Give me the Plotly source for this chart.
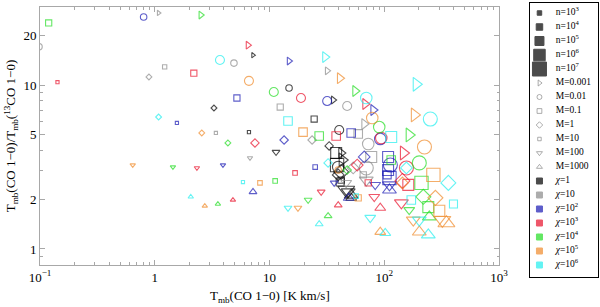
import plotly.graph_objects as go

# ---------------- data ----------------
# each chi group: x = Tmb(CO 1-0) [K km/s], y = line ratio, M = mass, n = log10 density
chi1_x = [7.18, 14.8, 35.9, 24.5, 3.28, 6.62, 11.4, 40.5, 33.1, 38.1, 42.1, 39.7, 42.1, 39.7, 48.5, 51.5, 38.8, 43.0, 46.6, 41.3, 42.1, 51.5]
chi1_y = [15.2, 9.59, 8.10, 6.20, 7.24, 5.16, 3.90, 5.32, 4.25, 3.85, 3.85, 3.16, 2.63, 2.83, 2.23, 2.05, 3.25, 3.49, 2.29, 2.56, 2.95, 2.13]
chi1_M = [0.001, 0.01, 0.001, 0.1, 1, 10, 100, 0.01, 1, 0.1, 0.001, 0.01, 10, 1, 100, 1000, 0.1, 0.001, 100, 10, 1, 1000]
chi1_n = [3, 4, 4, 4, 3, 3, 4, 5, 4, 6, 5, 6, 5, 5, 6, 5, 7, 6, 7, 6, 6, 6]

chi10_x = [0.098, 1.08, 4.90, 1.22, 0.89, 3.41, 6.76, 31.8, 12.4, 23.5, 47.5, 66.9, 59.3, 72.5, 77.0, 69.7, 53.6, 65.6, 46.6, 69.7]
chi10_y = [17.1, 27.5, 13.6, 12.9, 11.2, 5.10, 3.59, 12.2, 7.34, 4.62, 7.45, 5.78, 5.03, 4.37, 3.64, 3.12, 3.12, 2.83, 2.53, 2.63]
chi10_M = [0.01, 0.001, 0.01, 0.1, 1, 10, 100, 0.001, 0.1, 1, 0.01, 0.001, 0.1, 0.01, 0.1, 0.01, 1, 10, 100, 100]
chi10_n = [4, 3, 4, 3, 3, 3, 3, 4, 4, 4, 5, 5, 5, 6, 6, 7, 5, 5, 5, 6]

chi100_x = [0.80, 5.20, 1.56, 3.93, 14.8, 13.4, 7.18, 31.8, 80.2, 51.5, 92.3, 66.9, 108, 25.0, 108, 111, 36.6, 83.4, 111, 49.0, 106, 111, 113]
chi100_y = [26.0, 8.33, 5.87, 3.25, 14.0, 4.62, 2.23, 7.98, 7.04, 5.10, 4.69, 3.64, 3.64, 3.16, 3.03, 2.71, 2.53, 2.46, 2.46, 2.05, 2.83, 2.29, 3.25]
chi100_M = [0.01, 0.1, 10, 100, 0.001, 1, 1000, 0.01, 0.001, 0.1, 0.01, 1, 0.1, 10, 0.1, 0.1, 100, 100, 100, 1000, 10, 1000, 0.01]
chi100_n = [4, 4, 3, 3, 4, 4, 4, 5, 5, 5, 6, 5, 6, 4, 6, 7, 4, 5, 6, 5, 6, 6, 7]

chi1e3_x = [0.142, 2.19, 2.33, 4.80, 6.49, 7.47, 18.8, 16.7, 68.2, 38.1, 94.2, 147, 58.1, 156, 72.5, 162, 28.2, 81.8, 141, 39.7, 92.3, 144]
chi1e3_y = [10.4, 11.8, 3.12, 1.99, 17.5, 4.43, 8.33, 2.91, 7.66, 4.89, 4.75, 3.85, 3.25, 3.12, 2.53, 2.46, 2.23, 2.08, 1.91, 1.85, 1.78, 2.60]
chi1e3_M = [10, 0.1, 100, 1000, 0.001, 1, 0.01, 10, 0.001, 0.1, 0.01, 0.001, 1, 0.01, 10, 0.1, 100, 100, 100, 1000, 1000, 1]
chi1e3_n = [3, 4, 3, 3, 4, 4, 5, 4, 5, 5, 6, 6, 5, 7, 5, 6, 4, 5, 6, 4, 5, 6]

chi1e4_x = [0.119, 2.52, 4.34, 1.44, 3.55, 10.9, 11.2, 55.8, 27.1, 47.5, 21.7, 32.4, 90.4, 165, 115, 211, 242, 202, 219, 165, 247]
chi1e4_y = [23.9, 26.7, 4.43, 3.16, 1.88, 9.06, 2.60, 9.19, 4.89, 3.03, 1.99, 1.59, 5.54, 4.96, 3.49, 2.53, 1.80, 3.35, 2.08, 1.73, 1.57]
chi1e4_M = [0.1, 0.001, 1, 100, 1000, 0.01, 10, 0.001, 0.1, 1, 100, 1000, 0.01, 0.001, 0.1, 0.1, 0.1, 0.01, 1, 100, 1000]
chi1e4_n = [4, 4, 3, 3, 3, 5, 4, 5, 5, 4, 4, 4, 6, 6, 5, 7, 6, 7, 6, 5, 6]

chi1e5_x = [0.643, 2.73, 2.57, 6.62, 8.26, 41.0, 19.6, 17.7, 39.7, 59.3, 78.6, 183, 224, 268, 302, 144, 279, 92.3, 202, 348, 179, 321]
chi1e5_y = [3.25, 1.83, 5.10, 10.6, 2.53, 11.0, 5.16, 1.78, 3.03, 2.05, 6.29, 6.57, 4.19, 2.83, 1.71, 2.53, 2.05, 1.27, 1.27, 1.44, 1.50, 1.50]
chi1e5_M = [100, 1000, 1, 0.01, 10, 0.001, 0.1, 100, 0.01, 0.1, 0.01, 0.001, 0.01, 0.1, 0.1, 1, 1, 1000, 1000, 1000, 100, 100]
chi1e5_n = [3, 3, 3, 5, 4, 5, 5, 4, 4, 4, 6, 6, 7, 7, 6, 5, 6, 5, 6, 7, 6, 7]

chi1e6_x = [1.08, 2.06, 5.87, 3.70, 14.5, 30.5, 32.4, 14.5, 27.1, 56.9, 69.7, 115, 156, 75.5, 102, 190, 252, 172, 362, 401, 202, 242]
chi1e6_y = [6.38, 2.08, 2.56, 14.2, 6.03, 14.8, 3.35, 1.78, 1.42, 2.10, 8.33, 4.82, 3.12, 1.55, 1.25, 10.1, 6.20, 1.99, 2.53, 1.88, 1.50, 1.22]
chi1e6_M = [1, 1000, 10, 0.01, 0.1, 0.001, 1, 100, 1000, 10, 0.01, 0.1, 1, 100, 1000, 0.001, 0.01, 0.1, 1, 10, 100, 1000]
chi1e6_n = [3, 3, 3, 5, 5, 5, 4, 4, 4, 4, 6, 6, 5, 5, 5, 6, 7, 5, 6, 6, 6, 6]

# legend / encoding tables
n_exps = [3, 4, 5, 6, 7]
M_list = [0.001, 0.01, 0.1, 1, 10, 100, 1000]
M_text = ["0.001", "0.01", "0.1", "1", "10", "100", "1000"]
chi_text = ["1", "10", "10<sup>2</sup>", "10<sup>3</sup>", "10<sup>4</sup>", "10<sup>5</sup>", "10<sup>6</sup>"]

x_tickvals = [0.1, 1, 10, 100, 1000]
x_ticktext = ["10<sup>\u22121</sup>", "1", "10", "10<sup>2</sup>", "10<sup>3</sup>"]
y_tickvals = [1, 2, 5, 10, 20]
y_ticktext = ["1", "2", "5", "10", "20"]

# ---------------- styling ----------------
chi_colors = ["#000000", "#8a8a8a", "#1a1ab4", "#e8102a", "#22dd22", "#f08a2a", "#22eeee"]
M_symbols = ["triangle-right-open", "circle-open", "square-open", "diamond-open",
             "square-open", "triangle-down-open", "triangle-up-open"]
M_scale = [1.05, 1.0, 0.95, 1.0, 0.7, 1.05, 1.05]
n_size = {3: 4.5, 4: 6.5, 5: 9, 6: 11.5, 7: 14}

groups = [
    (chi1_x, chi1_y, chi1_M, chi1_n),
    (chi10_x, chi10_y, chi10_M, chi10_n),
    (chi100_x, chi100_y, chi100_M, chi100_n),
    (chi1e3_x, chi1e3_y, chi1e3_M, chi1e3_n),
    (chi1e4_x, chi1e4_y, chi1e4_M, chi1e4_n),
    (chi1e5_x, chi1e5_y, chi1e5_M, chi1e5_n),
    (chi1e6_x, chi1e6_y, chi1e6_M, chi1e6_n),
]

FONT = "Liberation Serif, Times New Roman, serif"
fig = go.Figure()

for ci, (gx, gy, gM, gn) in enumerate(groups):
    syms = [M_symbols[M_list.index(m)] for m in gM]
    sizes = [n_size[n] * M_scale[M_list.index(m)] for m, n in zip(gM, gn)]
    fig.add_trace(go.Scatter(
        x=gx, y=gy, mode="markers", showlegend=False, hoverinfo="x+y",
        marker=dict(symbol=syms, size=sizes, color=chi_colors[ci],
                    line=dict(width=1.1, color=chi_colors[ci])),
        xaxis="x", yaxis="y"))

# ---------------- legend panel ----------------
leg_labels = ([f"n=10<sup>{e}</sup>" for e in n_exps]
              + [f"M={t}" for t in M_text]
              + [f"<i>\u03c7</i>={t}" for t in chi_text])
leg_sym = (["square"] * len(n_exps) + M_symbols + ["square"] * len(chi_text))
leg_size = ([n_size[e] for e in n_exps] + [5 * s for s in M_scale] + [6] * len(chi_text))
leg_col = (["#000000"] * len(n_exps) + ["#8a8a8a"] * len(M_text) + chi_colors)

fig.add_trace(go.Scatter(
    x=[0.14] * len(leg_labels), y=leg_labels, mode="markers", showlegend=False,
    hoverinfo="skip",
    marker=dict(symbol=leg_sym, size=leg_size, color=leg_col,
                line=dict(width=1, color=leg_col)),
    xaxis="x2", yaxis="y2"))
fig.add_trace(go.Scatter(
    x=[0.38] * len(leg_labels), y=leg_labels, mode="text", text=leg_labels,
    textposition="middle right", showlegend=False, hoverinfo="skip",
    textfont=dict(family=FONT, size=9.5, color="#000"),
    xaxis="x2", yaxis="y2"))

frame_col = "#a8a8a8"
fig.update_layout(
    width=600, height=307,
    margin=dict(l=40, r=2, t=3, b=30),
    paper_bgcolor="white", plot_bgcolor="white",
    font=dict(family=FONT, size=13, color="#000"),
    xaxis=dict(
        type="log", domain=[0, 0.8226], range=[-1, 3],
        tickvals=x_tickvals, ticktext=x_ticktext,
        ticks="inside", ticklen=5, tickcolor=frame_col, tickwidth=1,
        showline=True, linecolor=frame_col, linewidth=1, mirror="allticks",
        showgrid=False, zeroline=False,
        minor=dict(ticks="inside", ticklen=2.5, tickcolor=frame_col, showgrid=False,
                   tickvals=[k * 10 ** e for e in (-1, 0, 1, 2) for k in range(2, 10)]),
        tickfont=dict(family=FONT, size=13), automargin=False, anchor="y"),
    yaxis=dict(
        type="log", domain=[0.0438, 0.9854], range=[-0.0976, 1.4756],
        tickvals=y_tickvals, ticktext=y_ticktext,
        ticks="inside", ticklen=5, tickcolor=frame_col, tickwidth=1,
        showline=True, linecolor=frame_col, linewidth=1, mirror="allticks",
        showgrid=False, zeroline=False,
        minor=dict(ticks="inside", ticklen=2.5, tickcolor=frame_col, showgrid=False,
                   tickvals=[0.8, 0.9, 3, 4, 6, 7, 8, 9, 30]),
        title=dict(text="T<sub>mb</sub>(CO 1\u22120)/T<sub>mb</sub>(<sup>13</sup>CO 1\u22120)",
                   standoff=4, font=dict(family=FONT, size=13)),
        tickfont=dict(family=FONT, size=13), automargin=False, anchor="x"),
    xaxis2=dict(domain=[0.878, 1.0], range=[0, 1], showticklabels=False, ticks="",
                showgrid=False, zeroline=False, showline=True, linecolor="#000",
                linewidth=1, mirror=True, anchor="y2", fixedrange=True),
    yaxis2=dict(domain=[0, 1], type="category", categoryorder="array",
                categoryarray=leg_labels, range=[18.857, -0.714],
                showticklabels=False, ticks="", showgrid=False, zeroline=False,
                showline=True, linecolor="#000", linewidth=1, mirror=True,
                anchor="x2", fixedrange=True),
    annotations=[dict(text="T<sub>mb</sub>(CO 1\u22120) [K km/s]", xref="paper", yref="paper",
                      x=0.4113, y=-0.072, xanchor="center", yanchor="middle",
                      showarrow=False, font=dict(family=FONT, size=13, color="#000"))],
)

fig.write_html("out.html", config={"displayModeBar": False})
# remove the browser's default page margin so the 600x307 figure fills the window
with open("out.html", "r", encoding="utf-8") as fh:
    page = fh.read()
page = page.replace("<head>", "<head><style>html,body{margin:0;padding:0;overflow:hidden}</style>", 1)
with open("out.html", "w", encoding="utf-8") as fh:
    fh.write(page)
